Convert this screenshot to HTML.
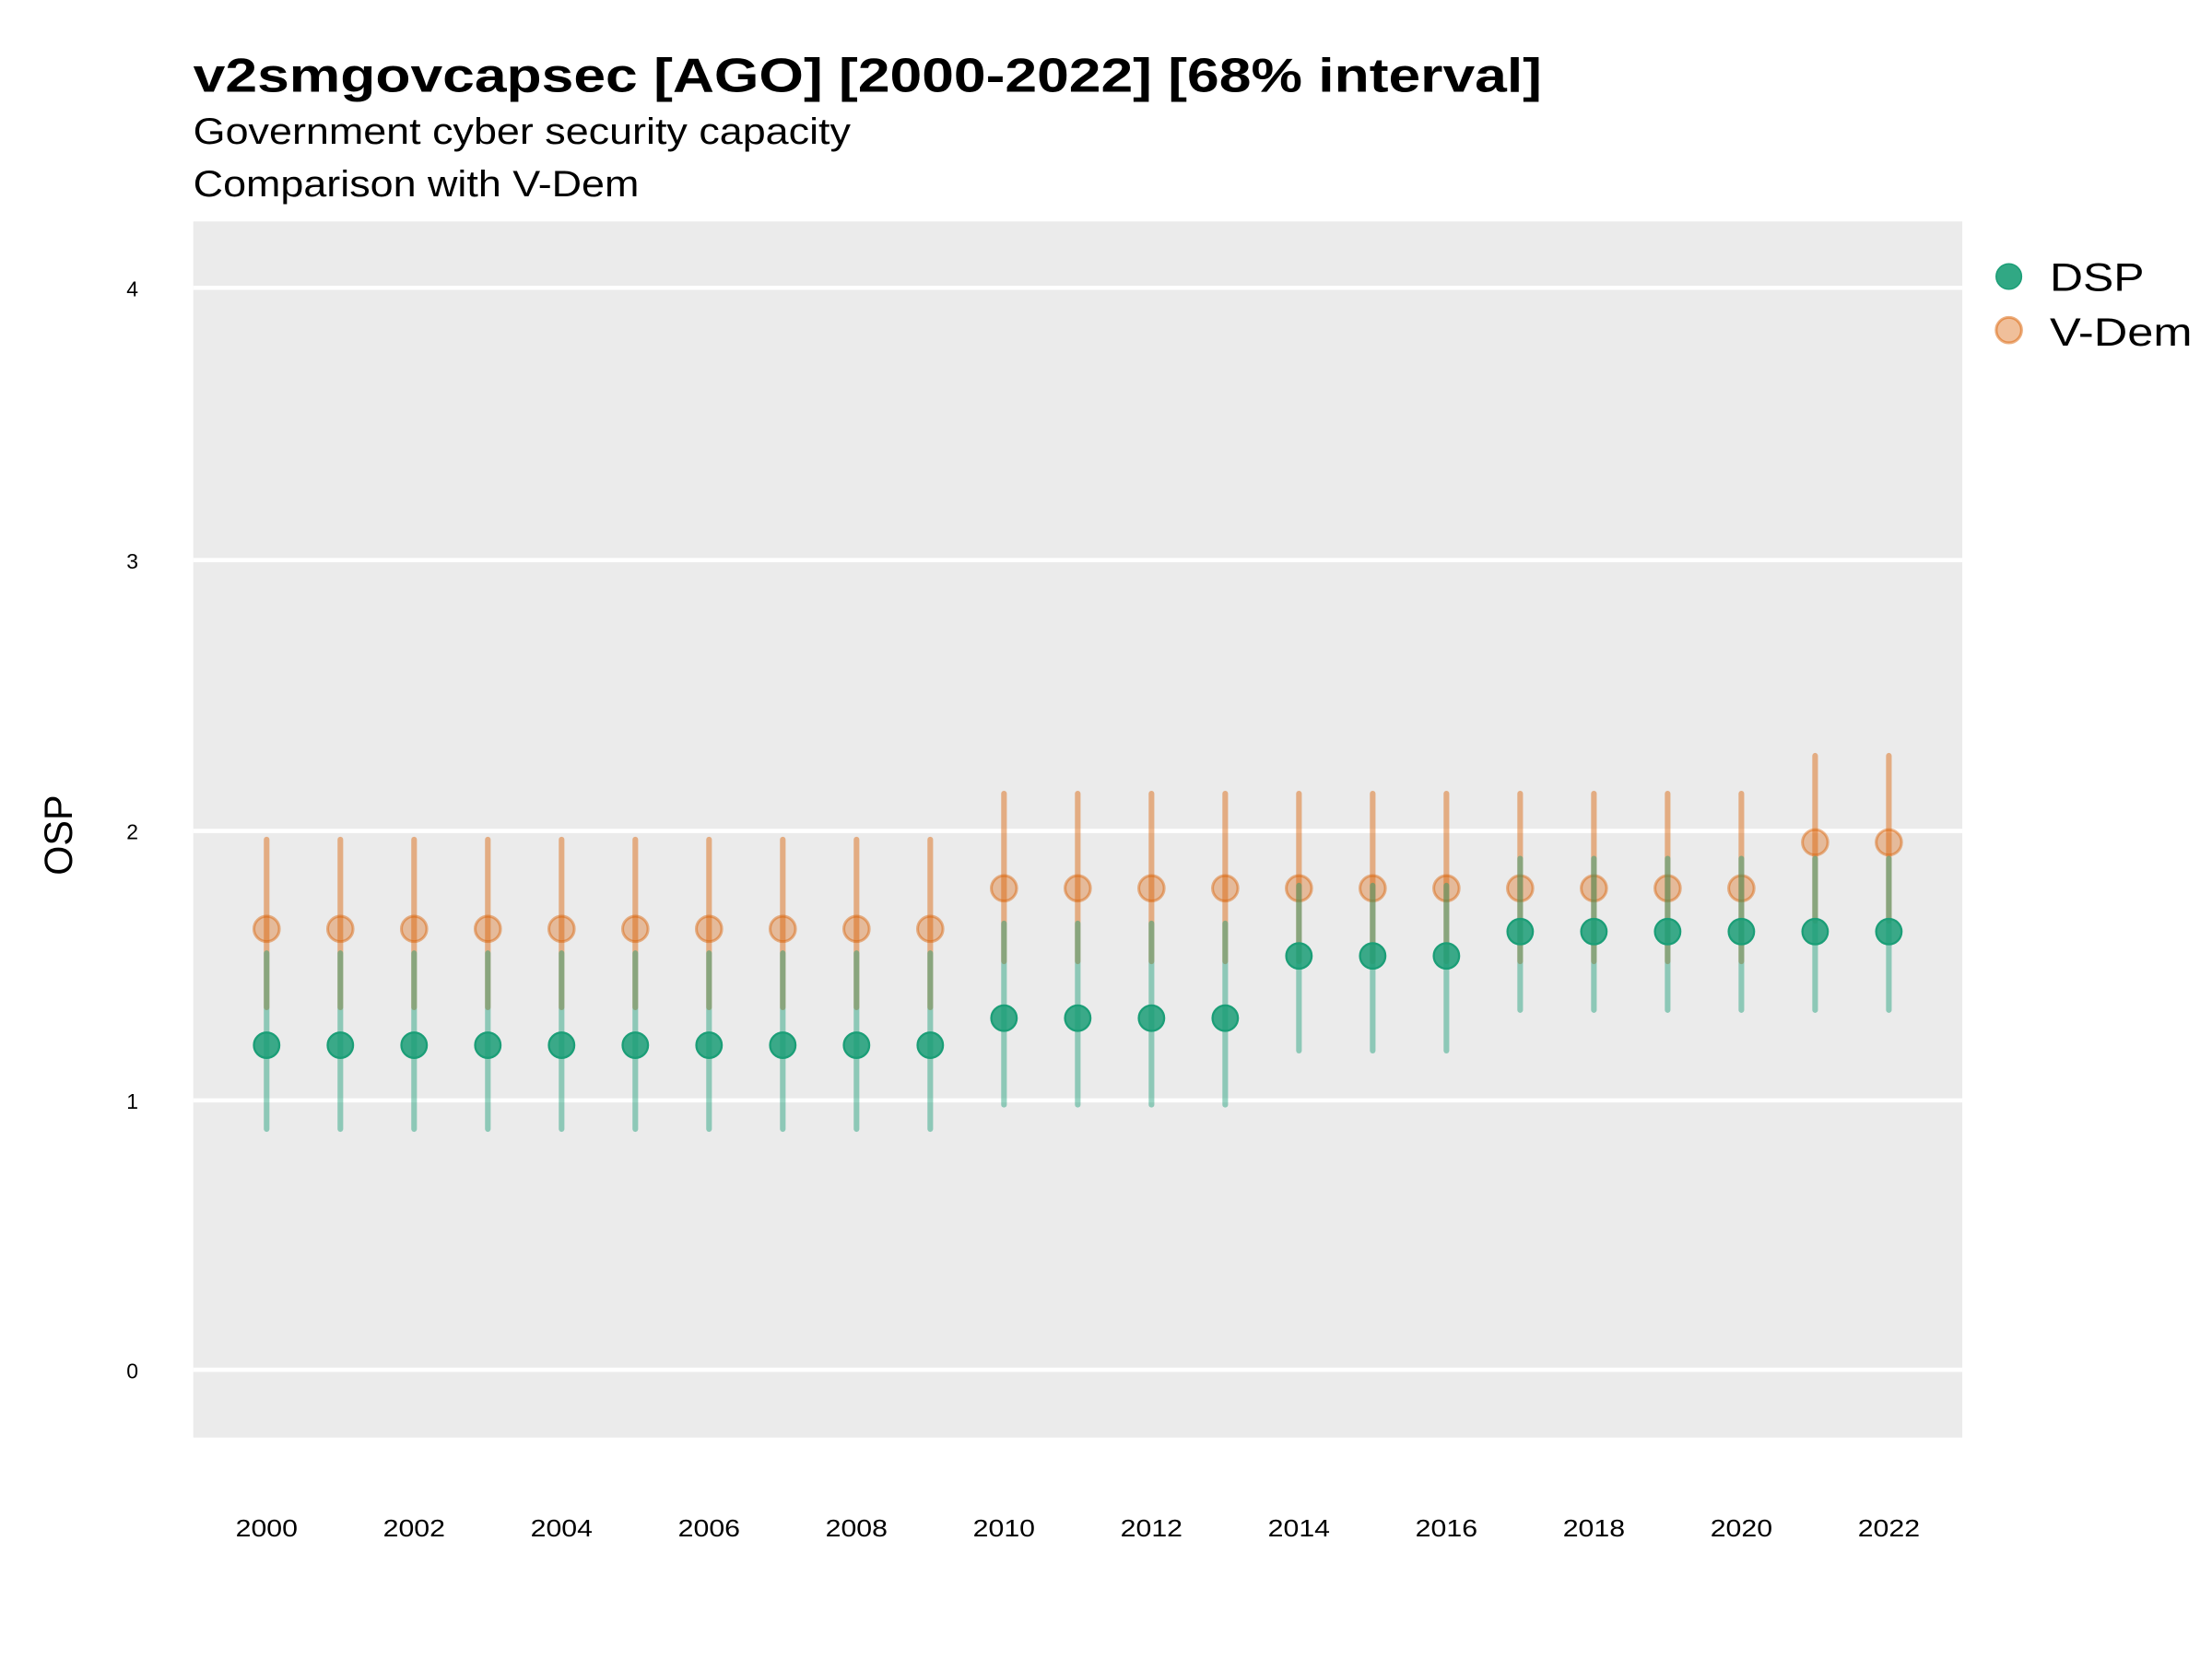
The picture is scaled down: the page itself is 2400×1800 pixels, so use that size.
<!DOCTYPE html>
<html><head><meta charset="utf-8"><style>html,body{margin:0;padding:0;background:#fff}svg{display:block}</style></head>
<body>
<svg width="2400" height="1800" viewBox="0 0 1568 1176" xmlns="http://www.w3.org/2000/svg" font-family="Liberation Sans, sans-serif">
<rect width="1568" height="1176" fill="#fff"/>
<text x="137" y="65" font-size="34" font-weight="bold" textLength="956" lengthAdjust="spacingAndGlyphs">v2smgovcapsec [AGO] [2000-2022] [68% interval]</text>
<text x="137" y="102" font-size="26" textLength="466" lengthAdjust="spacingAndGlyphs">Government cyber security capacity</text>
<text x="137" y="139" font-size="26" textLength="316" lengthAdjust="spacingAndGlyphs">Comparison with V-Dem</text>
<rect x="137" y="157" width="1254" height="862" fill="#ebebeb"/>
<g stroke="#fff" stroke-width="3">
<line x1="137" x2="1391" y1="204" y2="204"/><line x1="137" x2="1391" y1="397" y2="397"/>
<line x1="137" x2="1391" y1="589" y2="589"/><line x1="137" x2="1391" y1="780" y2="780"/>
<line x1="137" x2="1391" y1="971" y2="971"/>
</g>
<g font-size="15" text-anchor="end">
<text x="98" y="210">4</text><text x="98" y="403">3</text><text x="98" y="595">2</text><text x="98" y="786">1</text><text x="98" y="977">0</text>
</g>
<text transform="translate(51,592) rotate(-90)" font-size="28" text-anchor="middle" textLength="57" lengthAdjust="spacingAndGlyphs">OSP</text>
<g font-size="17" text-anchor="middle" id="xt"></g>
<g id="plot"></g>
<circle cx="1424" cy="196" r="9" fill="#1b9e77" fill-opacity="0.9" stroke="#1b9e77"/>
<text x="1453" y="206" font-size="28" textLength="67" lengthAdjust="spacingAndGlyphs">DSP</text>
<circle cx="1424" cy="234" r="9" fill="#d95f02" fill-opacity="0.4" stroke="#d95f02" stroke-opacity="0.5" stroke-width="2"/>
<text x="1453" y="245" font-size="28" textLength="101" lengthAdjust="spacingAndGlyphs">V-Dem</text>
<script>
var g=document.getElementById('plot'),ns='http://www.w3.org/2000/svg';
function y(v){return 971-191.75*v;}
function el(t,a,p){var e=document.createElementNS(ns,t);for(var k in a)e.setAttribute(k,a[k]);(p||g).appendChild(e);return e;}
var xt=document.getElementById('xt');
for(var i=0;i<23;i+=2){var t=el('text',{x:189+i*52.27,y:1089,textLength:44,lengthAdjust:'spacingAndGlyphs'},xt);t.textContent=String(2000+i);}
var V=[],D=[];
for(var i=0;i<23;i++){
 var yr=2000+i;
 if(yr<2010){V.push([1.63,1.34,1.96]);D.push([1.20,0.89,1.54]);}
 else if(yr<2014){V.push([1.78,1.51,2.13]);D.push([1.30,0.98,1.65]);}
 else if(yr<2017){V.push([1.78,1.51,2.13]);D.push([1.53,1.18,1.79]);}
 else if(yr<2021){V.push([1.78,1.51,2.13]);D.push([1.62,1.33,1.89]);}
 else {V.push([1.95,1.66,2.27]);D.push([1.62,1.33,1.89]);}
}
for(var i=0;i<23;i++){var x=189+i*52.27;
 el('line',{x1:x,x2:x,y1:y(V[i][1]),y2:y(V[i][2]),stroke:'#d95f02','stroke-opacity':0.45,'stroke-width':4,'stroke-linecap':'round'});
 el('circle',{cx:x,cy:y(V[i][0]),r:9,fill:'#d95f02','fill-opacity':0.35,stroke:'#d95f02','stroke-opacity':0.45,'stroke-width':2});}
for(var i=0;i<23;i++){var x=189+i*52.27;
 el('line',{x1:x,x2:x,y1:y(D[i][1]),y2:y(D[i][2]),stroke:'#1b9e77','stroke-opacity':0.45,'stroke-width':4,'stroke-linecap':'round'});
 el('circle',{cx:x,cy:y(D[i][0]),r:9,fill:'#1b9e77','fill-opacity':0.85,stroke:'#1b9e77','stroke-width':1.5});}
</script>
</svg>
</body></html>
